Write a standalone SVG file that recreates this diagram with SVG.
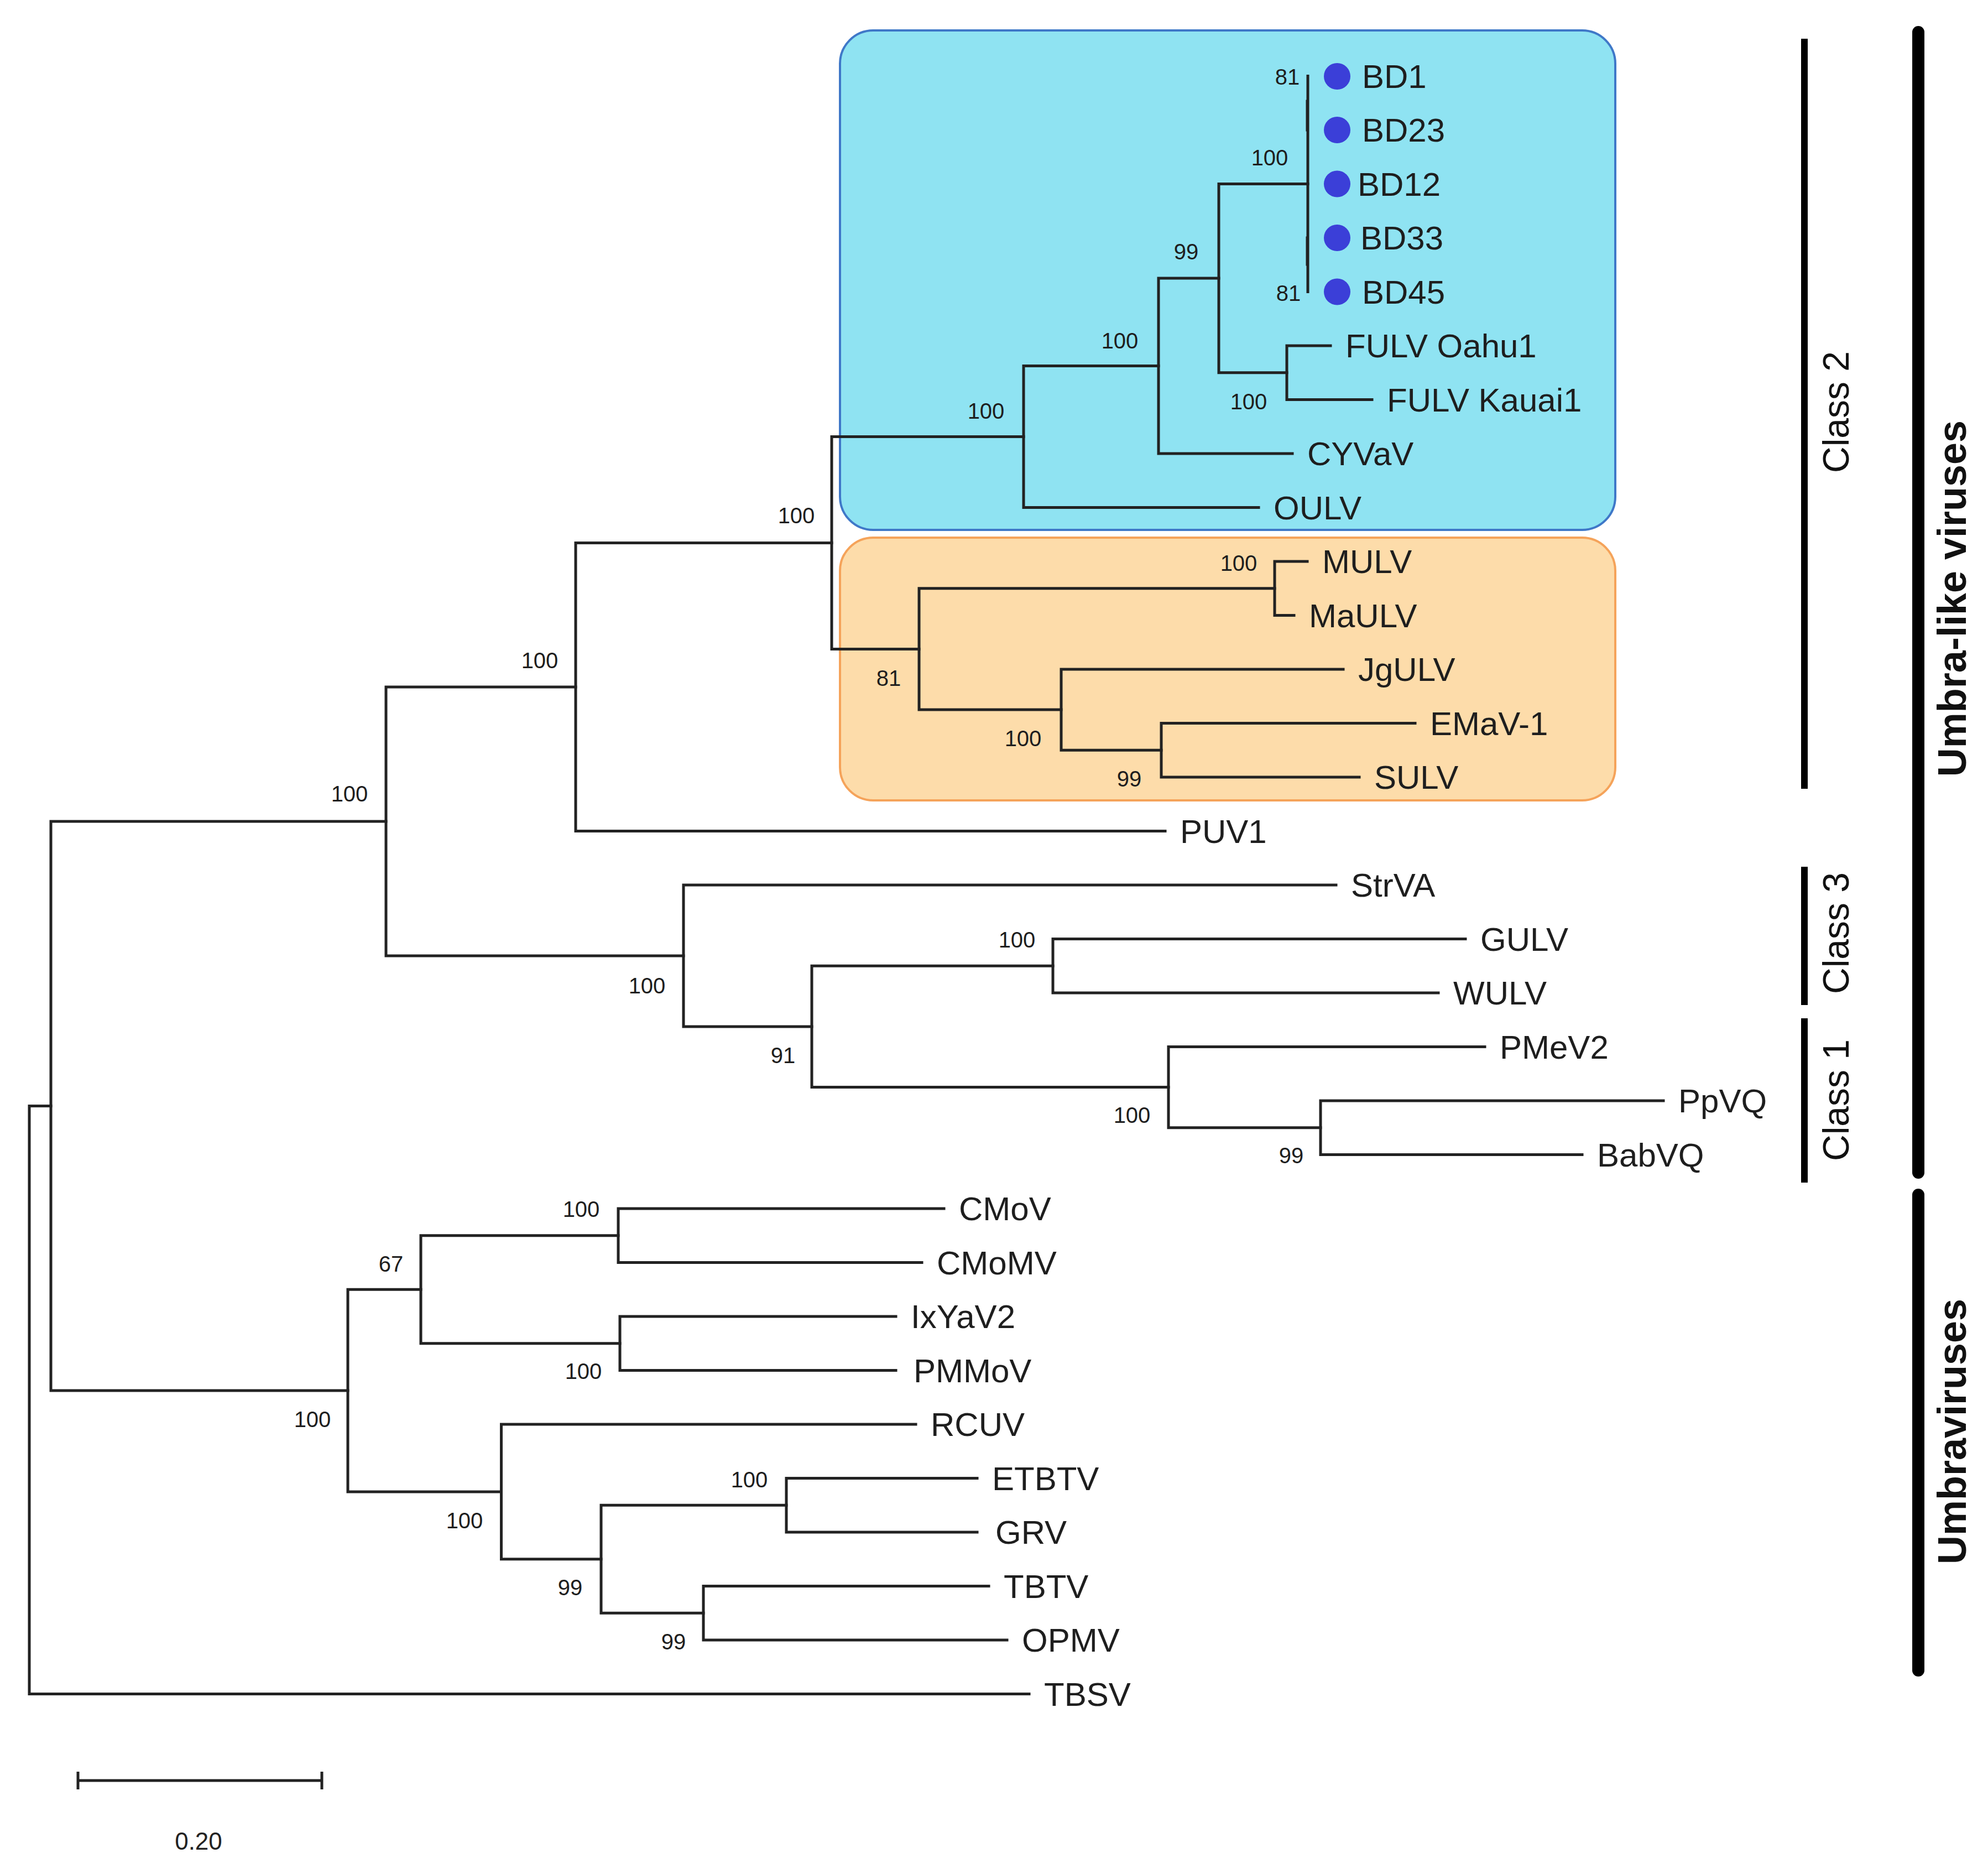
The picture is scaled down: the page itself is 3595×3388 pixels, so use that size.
<svg xmlns="http://www.w3.org/2000/svg" width="3595" height="3388" viewBox="0 0 3595 3388">
<style>
.br{fill:none;stroke:#222;stroke-width:5;stroke-linecap:square}
.leaf{font-family:"Liberation Sans",Arial,sans-serif;font-size:60px;fill:#1e1e1e}
.bs{font-family:"Liberation Sans",Arial,sans-serif;font-size:40px;fill:#1e1e1e;text-anchor:middle}
.cls{font-family:"Liberation Sans",Arial,sans-serif;font-size:66px;fill:#111;text-anchor:middle}
.grp{font-family:"Liberation Sans",Arial,sans-serif;font-size:72px;font-weight:bold;fill:#111;text-anchor:middle}
.dot{fill:#3b3fd8}
</style>
<rect width="3595" height="3388" fill="#ffffff"/>
<g id="clade-boxes">
<rect id="class2a-box" x="1519" y="55" width="1402" height="903" rx="60" ry="60" fill="#8fe3f2" stroke="#3f78c8" stroke-width="4"/>
<rect id="class2b-box" x="1519" y="972" width="1402" height="475" rx="60" ry="60" fill="#fddcaa" stroke="#f5a35a" stroke-width="4"/>
</g>
<g id="connectors">
<path class="br" d="M2365 137.5V527.5"/>
<path class="br" d="M2364 183V235M2364 430V478" stroke-width="8"/>
<path class="br" d="M2327 625V722.5M2327 625H2406M2327 722.5H2481"/>
<path class="br" d="M2204 332.5V673.75M2204 332.5H2365M2204 673.75H2327"/>
<path class="br" d="M2095 503.1V820M2095 503.1H2204M2095 820H2337"/>
<path class="br" d="M1851 661.6V917.5M1851 661.6H2095M1851 917.5H2276"/>
<path class="br" d="M2305 1015V1112.5M2305 1015H2364M2305 1112.5H2340"/>
<path class="br" d="M2100 1307.5V1405M2100 1307.5H2559M2100 1405H2458"/>
<path class="br" d="M1919 1210V1356.25M1919 1210H2429M1919 1356.25H2100"/>
<path class="br" d="M1662 1063.75V1283.1M1662 1063.75H2305M1662 1283.1H1919"/>
<path class="br" d="M1504 789.6V1173.4M1504 789.6H1851M1504 1173.4H1662"/>
<path class="br" d="M1041 981.5V1502.5M1041 981.5H1504M1041 1502.5H2107"/>
<path class="br" d="M2388 1990V2087.5M2388 1990H3008M2388 2087.5H2861"/>
<path class="br" d="M2113 1892.5V2038.75M2113 1892.5H2685M2113 2038.75H2388"/>
<path class="br" d="M1904 1697.5V1795M1904 1697.5H2650M1904 1795H2601"/>
<path class="br" d="M1468 1746.25V1965.6M1468 1746.25H1904M1468 1965.6H2113"/>
<path class="br" d="M1236 1600V1855.9M1236 1600H2416M1236 1855.9H1468"/>
<path class="br" d="M698 1242V1728M698 1242H1041M698 1728H1236"/>
<path class="br" d="M1118 2185V2282.5M1118 2185H1707M1118 2282.5H1667"/>
<path class="br" d="M1121 2380V2477.5M1121 2380H1620M1121 2477.5H1620"/>
<path class="br" d="M761 2233.75V2428.75M761 2233.75H1118M761 2428.75H1121"/>
<path class="br" d="M1422 2672.5V2770M1422 2672.5H1767M1422 2770H1767"/>
<path class="br" d="M1272 2867.5V2965M1272 2867.5H1788M1272 2965H1821"/>
<path class="br" d="M1087 2721.25V2916.25M1087 2721.25H1422M1087 2916.25H1272"/>
<path class="br" d="M906.5 2575V2818.75M906.5 2575H1656M906.5 2818.75H1087"/>
<path class="br" d="M629 2331.25V2696.9M629 2331.25H761M629 2696.9H906.5"/>
<path class="br" d="M92 1485V2514.1M92 1485H698M92 2514.1H629"/>
<path class="br" d="M53 1999.5V3062.5M53 1999.5H92M53 3062.5H1861"/>
</g>
<g id="support-values">
<text class="bs" x="2328" y="153">81</text>
<text class="bs" x="2330" y="544">81</text>
<text class="bs" x="2296" y="299">100</text>
<text class="bs" x="2145" y="469">99</text>
<text class="bs" x="2025" y="630">100</text>
<text class="bs" x="1783" y="757">100</text>
<text class="bs" x="2258" y="740">100</text>
<text class="bs" x="2240" y="1032">100</text>
<text class="bs" x="1607" y="1240">81</text>
<text class="bs" x="1850" y="1349">100</text>
<text class="bs" x="2042" y="1422">99</text>
<text class="bs" x="1440" y="946">100</text>
<text class="bs" x="976" y="1208">100</text>
<text class="bs" x="632" y="1449">100</text>
<text class="bs" x="1839" y="1713">100</text>
<text class="bs" x="1170" y="1796">100</text>
<text class="bs" x="1416" y="1922">91</text>
<text class="bs" x="2047" y="2030">100</text>
<text class="bs" x="2335" y="2103">99</text>
<text class="bs" x="1051" y="2200">100</text>
<text class="bs" x="707" y="2299">67</text>
<text class="bs" x="1055" y="2493">100</text>
<text class="bs" x="565" y="2580">100</text>
<text class="bs" x="1355" y="2689">100</text>
<text class="bs" x="840" y="2763">100</text>
<text class="bs" x="1031" y="2884">99</text>
<text class="bs" x="1218" y="2982">99</text>
</g>
<g id="BD1"><circle class="dot" cx="2418" cy="138" r="24"/><text class="leaf" x="2463" y="159">BD1</text></g>
<g id="BD23"><circle class="dot" cx="2418" cy="235" r="24"/><text class="leaf" x="2463" y="256">BD23</text></g>
<g id="BD12"><circle class="dot" cx="2418" cy="332.5" r="24"/><text class="leaf" x="2455" y="353.5">BD12</text></g>
<g id="BD33"><circle class="dot" cx="2418" cy="430" r="24"/><text class="leaf" x="2460" y="451">BD33</text></g>
<g id="BD45"><circle class="dot" cx="2418" cy="527.5" r="24"/><text class="leaf" x="2463" y="548.5">BD45</text></g>
<g id="FULV-Oahu1"><text class="leaf" x="2433" y="646">FULV Oahu1</text></g>
<g id="FULV-Kauai1"><text class="leaf" x="2508" y="743.5">FULV Kauai1</text></g>
<g id="CYVaV"><text class="leaf" x="2364" y="841">CYVaV</text></g>
<g id="OULV"><text class="leaf" x="2303" y="938.5">OULV</text></g>
<g id="MULV"><text class="leaf" x="2391" y="1036">MULV</text></g>
<g id="MaULV"><text class="leaf" x="2367" y="1133.5">MaULV</text></g>
<g id="JgULV"><text class="leaf" x="2456" y="1231">JgULV</text></g>
<g id="EMaV-1"><text class="leaf" x="2586" y="1328.5">EMaV-1</text></g>
<g id="SULV"><text class="leaf" x="2485" y="1426">SULV</text></g>
<g id="PUV1"><text class="leaf" x="2134" y="1523.5">PUV1</text></g>
<g id="StrVA"><text class="leaf" x="2443" y="1621">StrVA</text></g>
<g id="GULV"><text class="leaf" x="2677" y="1718.5">GULV</text></g>
<g id="WULV"><text class="leaf" x="2628" y="1816">WULV</text></g>
<g id="PMeV2"><text class="leaf" x="2712" y="1913.5">PMeV2</text></g>
<g id="PpVQ"><text class="leaf" x="3035" y="2011">PpVQ</text></g>
<g id="BabVQ"><text class="leaf" x="2888" y="2108.5">BabVQ</text></g>
<g id="CMoV"><text class="leaf" x="1734" y="2206">CMoV</text></g>
<g id="CMoMV"><text class="leaf" x="1694" y="2303.5">CMoMV</text></g>
<g id="IxYaV2"><text class="leaf" x="1647" y="2401">IxYaV2</text></g>
<g id="PMMoV"><text class="leaf" x="1652" y="2498.5">PMMoV</text></g>
<g id="RCUV"><text class="leaf" x="1683" y="2596">RCUV</text></g>
<g id="ETBTV"><text class="leaf" x="1794" y="2693.5">ETBTV</text></g>
<g id="GRV"><text class="leaf" x="1800" y="2791">GRV</text></g>
<g id="TBTV"><text class="leaf" x="1815" y="2888.5">TBTV</text></g>
<g id="OPMV"><text class="leaf" x="1848" y="2986">OPMV</text></g>
<g id="TBSV"><text class="leaf" x="1888" y="3083.5">TBSV</text></g>
<g id="class-brackets">
<g id="class2"><line x1="3263" y1="70" x2="3263" y2="1426" stroke="#000" stroke-width="12"/><text class="cls" transform="translate(3343,745) rotate(-90)">Class 2</text></g>
<g id="class3"><line x1="3263" y1="1567" x2="3263" y2="1817" stroke="#000" stroke-width="12"/><text class="cls" transform="translate(3343,1687) rotate(-90)">Class 3</text></g>
<g id="class1"><line x1="3263" y1="1841" x2="3263" y2="2138" stroke="#000" stroke-width="12"/><text class="cls" transform="translate(3343,1989) rotate(-90)">Class 1</text></g>
<g id="umbra-like"><line x1="3469" y1="58" x2="3469" y2="2120" stroke="#000" stroke-width="22" stroke-linecap="round"/><text class="grp" transform="translate(3555,1082) rotate(-90)">Umbra-like viruses</text></g>
<g id="umbraviruses"><line x1="3469" y1="2160" x2="3469" y2="3020" stroke="#000" stroke-width="22" stroke-linecap="round"/><text class="grp" transform="translate(3555,2588) rotate(-90)">Umbraviruses</text></g>
</g>
<g id="scale-bar">
<path d="M141 3219H582M141 3203V3235M582 3203V3235" fill="none" stroke="#222" stroke-width="5"/>
<text x="359" y="3344" font-family="Liberation Sans, Arial, sans-serif" font-size="44" fill="#222" text-anchor="middle">0.20</text>
</g>
</svg>
